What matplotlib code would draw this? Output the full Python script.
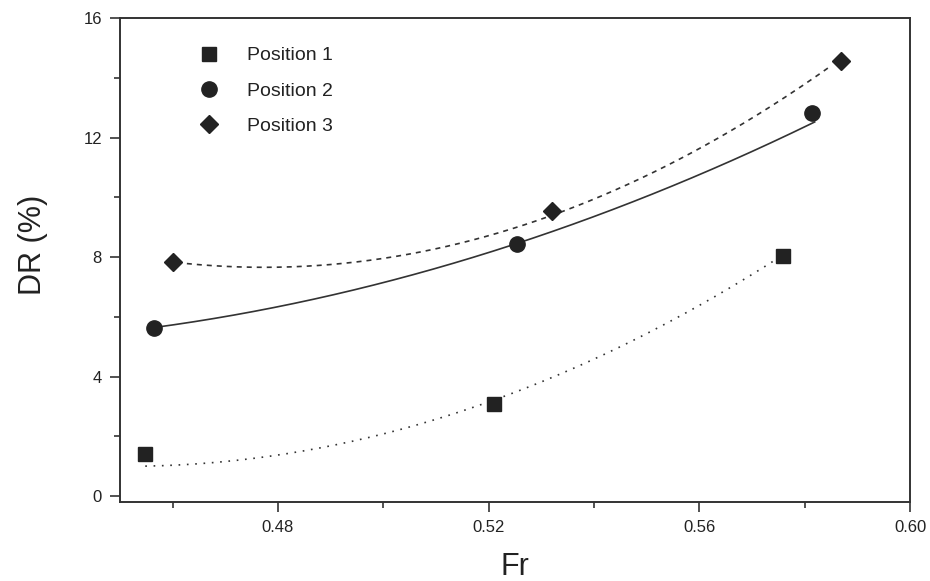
import numpy as np
import matplotlib
matplotlib.use("Agg")
import matplotlib.pyplot as plt
from matplotlib.ticker import MultipleLocator

plt.rcParams['font.family'] = ['Liberation Sans', 'DejaVu Sans']

# measured points (Fr, DR %)
fr_pos1 = [0.4548, 0.5210, 0.5759]
dr_pos1 = [1.40, 3.08, 8.03]
fr_pos2 = [0.4565, 0.5253, 0.5813]
dr_pos2 = [5.64, 8.45, 12.82]
fr_pos3 = [0.4600, 0.5321, 0.5869]
dr_pos3 = [7.82, 9.53, 14.55]

# trend curves (start, middle, end of each curve)
curve_fr_pos1 = [0.4548, 0.5189, 0.5744]
curve_dr_pos1 = [1.00, 3.08, 7.90]
curve_fr_pos2 = [0.4565, 0.5253, 0.5819]
curve_dr_pos2 = [5.64, 8.45, 12.52]
curve_fr_pos3 = [0.4627, 0.5321, 0.5851]
curve_dr_pos3 = [7.78, 9.40, 14.41]

labels = ["Position 1", "Position 2", "Position 3"]

ink = '#222222'

fig = plt.figure(figsize=(9.3, 5.81), dpi=100)
ax = fig.add_axes([0.129, 0.136, 0.8495, 0.833])


def trend(ax, cx, cy, ls):
    coef = np.polyfit(cx, cy, 2)
    xs = np.linspace(min(cx), max(cx), 200)
    ax.plot(xs, np.polyval(coef, xs), color='#333333', lw=1.2, ls=ls, zorder=2)


trend(ax, curve_fr_pos1, curve_dr_pos1, (0, (1, 4)))
trend(ax, curve_fr_pos2, curve_dr_pos2, '-')
trend(ax, curve_fr_pos3, curve_dr_pos3, (0, (3, 3)))

ax.plot(fr_pos1, dr_pos1, ls='none', marker='s', ms=10.5, color=ink, label=labels[0], zorder=3)
ax.plot(fr_pos2, dr_pos2, ls='none', marker='o', ms=11, color=ink, label=labels[1], zorder=3)
ax.plot(fr_pos3, dr_pos3, ls='none', marker='D', ms=9.5, color=ink, label=labels[2], zorder=3)

ax.set_xlim(0.45, 0.60)
ax.set_ylim(-0.2, 16)
ax.yaxis.set_major_locator(MultipleLocator(4))
ax.yaxis.set_minor_locator(MultipleLocator(2))
ax.set_xticks([0.48, 0.52, 0.56, 0.60])
ax.set_xticklabels(["0.48", "0.52", "0.56", "0.60"])
ax.set_xticks([0.46, 0.50, 0.54, 0.58], minor=True)

for s in ax.spines.values():
    s.set_color('#333333')
    s.set_linewidth(1.4)
ax.tick_params(which='major', direction='out', length=7, width=1.2, color='#333333',
               labelsize=12, labelcolor=ink, pad=6)
ax.tick_params(which='minor', direction='out', length=4, width=1.2, color='#333333')

ax.set_xlabel("Fr", fontsize=22, color=ink, labelpad=12)
ax.set_ylabel("DR (%)", fontsize=22, color=ink)
ax.yaxis.set_label_coords(-0.0905, 0.531)

ax.legend(loc='upper left', bbox_to_anchor=(0.101, 0.9405), frameon=False,
          fontsize=14, handlelength=1.0, handletextpad=1.43, labelspacing=0.91,
          borderpad=0, borderaxespad=0, labelcolor=ink)

fig.savefig("out.png", dpi=100)
